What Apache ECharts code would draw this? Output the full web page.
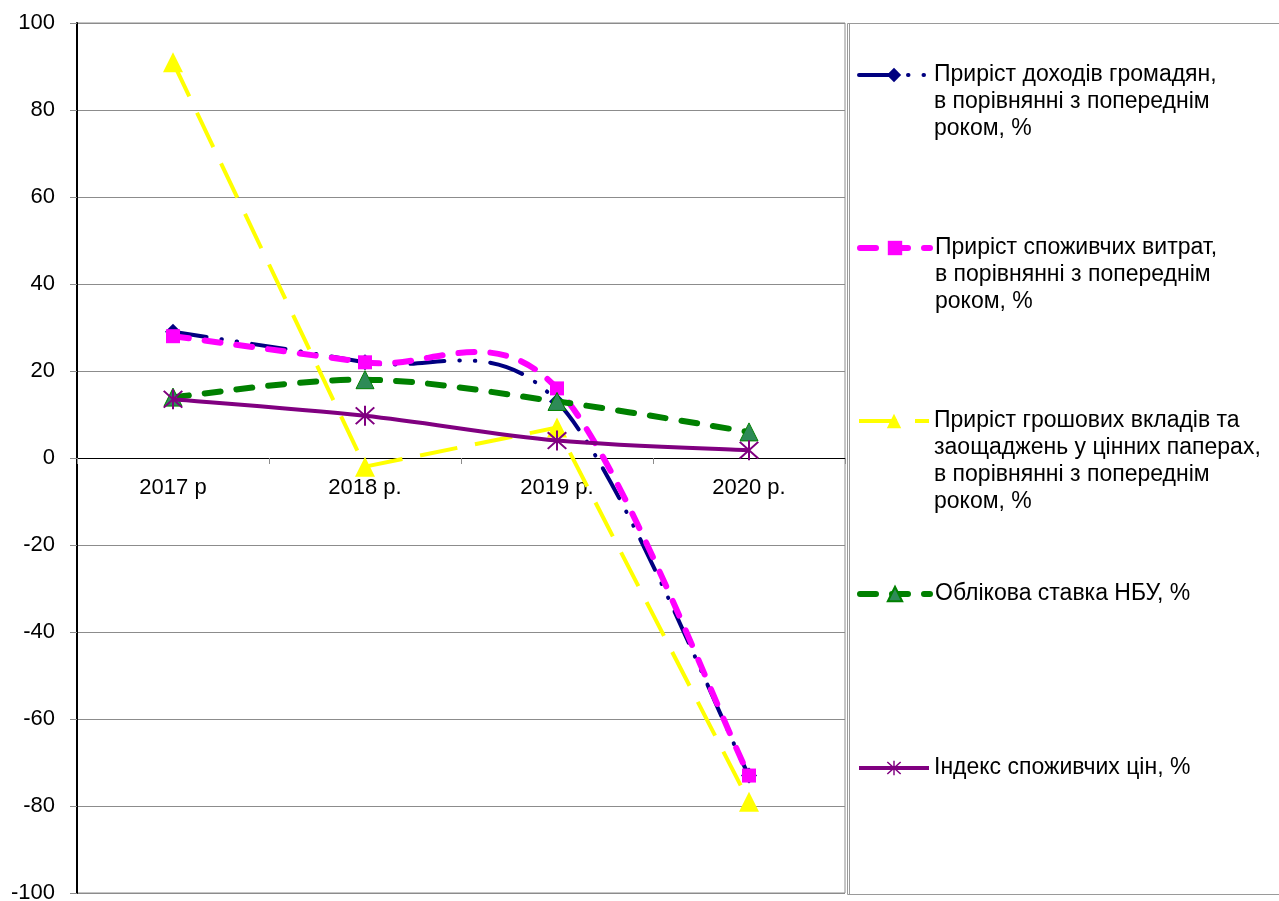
<!DOCTYPE html>
<html><head><meta charset="utf-8">
<script src="https://cdn.jsdelivr.net/npm/echarts@6/dist/echarts.min.js"></script>
<style>html,body{margin:0;padding:0;background:#fff}#c{width:1279px;height:901px}</style>
</head><body><div id="c"></div>
<script>
const categories = ['2017 р', '2018 р.', '2019 р.', '2020 р.'];
const incomeGrowth = [29, 22, 13, -73];
const spendingGrowth = [28, 22, 16, -73];
const savingsGrowth = [91, -2, 7, -79];
const nbuRate = [14, 18, 13, 6];
const cpiIndex = [13.5, 9.7, 4, 1.8];
const seriesNames = [
  'Приріст доходів громадян,\nв порівнянні з попереднім\nроком, %',
  'Приріст споживчих витрат,\nв порівнянні з попереднім\nроком, %',
  'Приріст грошових вкладів та\nзаощаджень у цінних паперах,\nв порівнянні з попереднім\nроком, %',
  'Облікова ставка НБУ, %',
  'Індекс споживчих цін, %'
];
const yMin = -100, yMax = 100, yStep = 20;

const FONT = '"Liberation Sans", Arial, sans-serif';
const LH = 27;
const GRID = {left: 77, top: 23, width: 768, height: 870};
const legendIconY = [75, 248, 421, 594, 768];
const asterisk = 'path://M9.1,0L10.9,0L10.9,20L9.1,20Z M1,2.3L2.3,1L19,17.7L17.7,19Z M17.7,1L19,2.3L2.3,19L1,17.7Z';

const styles = [
  {color: '#000080', width: 4, dash: [34, 15, 0.5, 15, 0.5, 15], cap: 'round', smooth: true, symbol: 'diamond', size: 16},
  {color: '#ff00ff', width: 6, dash: [16, 16], cap: 'round', smooth: true, symbol: 'rect', size: 14},
  {color: '#ffff00', width: 4, dash: [38, 18], cap: 'butt', smooth: false, symbol: 'triangle', size: 20},
  {color: '#008000', width: 6, dash: [16, 16], cap: 'round', smooth: true, symbol: 'triangle', size: 18, fill: '#2e8b57'},
  {color: '#800080', width: 4, dash: 'solid', cap: 'butt', smooth: true, symbol: asterisk, size: 20}
];
const seriesData = [incomeGrowth, spendingGrowth, savingsGrowth, nbuRate, cpiIndex];

const chart = echarts.init(document.getElementById('c'), null, {renderer: 'canvas'});

// Spline curve (Catmull-Rom style) drawn through the data via the chart's own coordinate system.
function curveSeries(values, st, z) {
  return {
    type: 'custom',
    coordinateSystem: 'cartesian2d',
    silent: true,
    z: z,
    data: [[0, values[0]]],
    renderItem: function (params, api) {
      const pts = values.map((v, i) => api.coord([i, v]));
      let d = 'M' + pts[0][0] + ',' + pts[0][1];
      for (let i = 0; i < pts.length - 1; i++) {
        const p0 = pts[Math.max(i - 1, 0)], p1 = pts[i], p2 = pts[i + 1], p3 = pts[Math.min(i + 2, pts.length - 1)];
        const c1 = [p1[0] + (p2[0] - p0[0]) / 6, p1[1] + (p2[1] - p0[1]) / 6];
        const c2 = [p2[0] - (p3[0] - p1[0]) / 6, p2[1] - (p3[1] - p1[1]) / 6];
        d += ' C' + c1[0] + ',' + c1[1] + ' ' + c2[0] + ',' + c2[1] + ' ' + p2[0] + ',' + p2[1];
      }
      return {
        type: 'path',
        shape: {pathData: d},
        style: {fill: 'none', stroke: st.color, lineWidth: st.width, lineDash: st.dash === 'solid' ? null : st.dash, lineCap: st.cap}
      };
    }
  };
}

const legends = seriesNames.map((n, i) => {
  const lines = n.split('\n').length;
  const st = styles[i];
  const lead = '\n'.repeat(lines - 1);
  return {
    data: [{name: n, lineStyle: {color: st.color, width: st.width, type: st.dash, cap: st.cap, opacity: 1}}],
    formatter: function (name) { return lead + name; },
    left: 857,
    top: legendIconY[i] - (2 * lines - 1) * LH / 2,
    padding: 0,
    itemWidth: 70,
    itemHeight: 18,
    selectedMode: false,
    textStyle: {fontSize: 23, lineHeight: LH, color: '#000', fontFamily: FONT}
  };
});

const series = [];
seriesData.forEach((vals, i) => {
  const st = styles[i];
  const z = 2 + i;
  if (st.smooth) series.push(curveSeries(vals, st, z));
  series.push({
    name: seriesNames[i], type: 'line', data: vals, smooth: false, z: z,
    symbol: st.symbol, symbolSize: st.size,
    itemStyle: st.fill ? {color: st.fill, borderColor: st.color, borderWidth: 1} : {color: st.color},
    lineStyle: {color: st.color, width: st.width, type: st.dash, cap: st.cap, opacity: st.smooth ? 0 : 1}
  });
});

const zeroOffset = -GRID.height * (0 - yMin) / (yMax - yMin);

chart.setOption({
  animation: false,
  backgroundColor: '#fff',
  textStyle: {fontFamily: FONT},
  grid: Object.assign({show: true, borderColor: '#8c8c8c', borderWidth: 1, containLabel: false, outerBoundsMode: 'none'}, GRID),
  legend: legends,
  graphic: [
    {type: 'rect', shape: {x: 847.5, y: 23.5, width: 600, height: 871}, style: {fill: 'none', stroke: '#9a9a9a', lineWidth: 1}, silent: true},
    {type: 'line', shape: {x1: 849.5, y1: 23.5, x2: 849.5, y2: 894.5}, style: {stroke: '#9a9a9a', lineWidth: 1}, silent: true}
  ],
  xAxis: [
    {
      type: 'category',
      data: categories,
      boundaryGap: true,
      axisLine: {onZero: true, lineStyle: {color: '#000', width: 1.2}},
      axisTick: {show: true, length: 6, lineStyle: {color: '#8c8c8c'}},
      axisLabel: {show: false},
      splitLine: {show: false}
    },
    {
      type: 'category',
      data: categories,
      position: 'bottom',
      offset: zeroOffset,
      axisLine: {show: false, onZero: false},
      axisTick: {show: false},
      axisLabel: {fontSize: 22, color: '#000', margin: 19, fontFamily: FONT},
      splitLine: {show: false}
    }
  ],
  yAxis: {
    type: 'value',
    min: yMin, max: yMax, interval: yStep,
    axisLine: {show: true, lineStyle: {color: '#000', width: 2}},
    axisTick: {show: true, length: 7, lineStyle: {color: '#8c8c8c'}},
    axisLabel: {fontSize: 22, color: '#000', margin: 22, fontFamily: FONT},
    splitLine: {show: true, lineStyle: {color: '#8c8c8c', width: 1}}
  },
  series: series
});
</script></body></html>
